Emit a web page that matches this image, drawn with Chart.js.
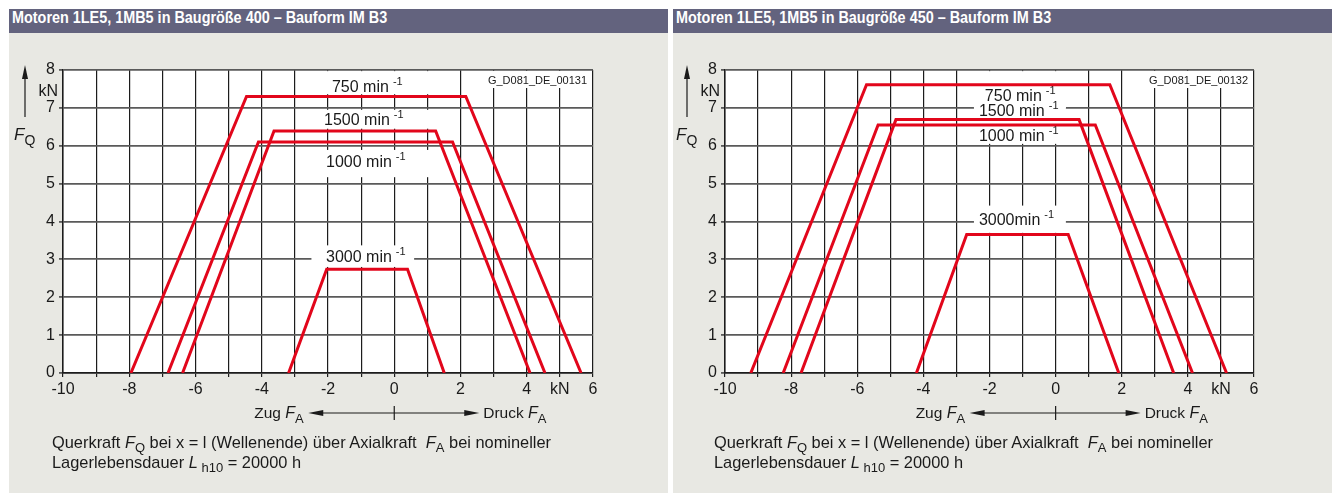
<!DOCTYPE html>
<html>
<head>
<meta charset="utf-8">
<script src="https://cdn.jsdelivr.net/npm/chart.js@4/dist/chart.umd.min.js"></script>
<style>
  body { margin: 0; background: #fff; width: 1337px; height: 493px; overflow: hidden;
         font-family: 'Liberation Sans', Arial, Helvetica, sans-serif; }
  .panel { position: absolute; top: 9px; width: 659px; height: 484px; background: #e8e8e3; }
  .head { height: 24px; background: #63637e; color: #fff; font-weight: bold; font-size: 16px;
          line-height: 18px; padding-left: 3px; white-space: nowrap; }
  .head span { display: inline-block; transform: scaleX(0.9); transform-origin: 0 0; }
  .panel canvas { position: absolute; left: 0; top: 24px; }
  .cap { position: absolute; top: 423px; font-size: 16.4px; line-height: 20px; color: #1a1a1a; white-space: nowrap; }
  .cap sub { font-size: 13px; vertical-align: -4px; line-height: 0; }
</style>
</head>
<body>

<div class="panel" id="p1" style="left:9px">
  <div class="head"><span>Motoren 1LE5, 1MB5 in Baugröße 400 – Bauform IM B3</span></div>
  <canvas id="c1" width="659" height="460"></canvas>
  <div class="cap" style="left:43px">Querkraft <i>F</i><sub>Q</sub> bei x = l (Wellenende) über Axialkraft &nbsp;<i>F</i><sub>A</sub> bei nomineller<br>Lagerlebensdauer <i>L</i><sub> h10</sub> = 20000 h</div>
</div>

<div class="panel" id="p2" style="left:673px">
  <div class="head"><span>Motoren 1LE5, 1MB5 in Baugröße 450 – Bauform IM B3</span></div>
  <canvas id="c2" width="659" height="460"></canvas>
  <div class="cap" style="left:41px">Querkraft <i>F</i><sub>Q</sub> bei x = l (Wellenende) über Axialkraft &nbsp;<i>F</i><sub>A</sub> bei nomineller<br>Lagerlebensdauer <i>L</i><sub> h10</sub> = 20000 h</div>
</div>

<script>
// speeds (min-1) in drawing order
const speeds = ['750', '1500', '1000', '3000'];

// Baugröße 400: axial force FA (kN) and radial force FQ (kN) at the corners
const fa400_750  = [-7.95, -4.46, 2.16, 5.64];
const fq400_750  = [0, 7.3, 7.3, 0];
const fa400_1500 = [-6.39, -3.63, 1.25, 4.1];
const fq400_1500 = [0, 6.39, 6.39, 0];
const fa400_1000 = [-6.83, -4.1, 1.76, 4.55];
const fq400_1000 = [0, 6.1, 6.1, 0];
const fa400_3000 = [-3.19, -2.04, 0.4, 1.51];
const fq400_3000 = [0, 2.74, 2.74, 0];

// Baugröße 450
const fa450_750  = [-9.22, -5.72, 1.64, 5.17];
const fq450_750  = [0, 7.61, 7.61, 0];
const fa450_1500 = [-7.7, -4.83, 0.71, 3.57];
const fq450_1500 = [0, 6.69, 6.69, 0];
const fa450_1000 = [-8.24, -5.37, 1.2, 4.14];
const fq450_1000 = [0, 6.55, 6.55, 0];
const fa450_3000 = [-4.21, -2.69, 0.38, 1.91];
const fq450_3000 = [0, 3.66, 3.66, 0];

// axis ticks
const xMin = -10, xMax = 6;
const xTickLabels = [-10, -8, -6, -4, -2, 0, 2, 4, 6];
const xUnitTick = 5;
const yMin = 0, yMax = 8;

const FONT = "'Liberation Sans', Arial, Helvetica, sans-serif";
const RED = '#e2061b';
const INK = '#1a1a1a';

function pts(xs, ys) { return xs.map((x, i) => ({ x: x, y: ys[i] })); }

// draw a row of text pieces (normal / italic / sub / sup)
function runs(ctx, x, y, parts, align) {
  let w = 0;
  parts.forEach(p => { ctx.font = p.f; w += ctx.measureText(p.t).width + (p.gap || 0); });
  if (align === 'right') x -= w;
  parts.forEach(p => {
    ctx.font = p.f;
    x += p.gap || 0;
    ctx.fillText(p.t, x, y + (p.dy || 0));
    x += ctx.measureText(p.t).width;
  });
  return x;
}

function arrowHead(ctx, x, y, dir) {
  // dir: 'up' | 'left' | 'right'
  ctx.beginPath();
  if (dir === 'up') { ctx.moveTo(x, y); ctx.lineTo(x - 3, y + 14); ctx.lineTo(x + 3, y + 14); }
  if (dir === 'left') { ctx.moveTo(x, y); ctx.lineTo(x + 15, y - 3); ctx.lineTo(x + 15, y + 3); }
  if (dir === 'right') { ctx.moveTo(x, y); ctx.lineTo(x - 15, y - 3); ctx.lineTo(x - 15, y + 3); }
  ctx.closePath();
  ctx.fill();
}

function makeChart(id, sets, cfg) {
  const decor = {
    id: 'decor',
    beforeDraw(chart) {
      const a = chart.chartArea, ctx = chart.ctx;
      ctx.save();
      ctx.fillStyle = '#fff';
      ctx.fillRect(a.left, a.top, a.right - a.left, a.bottom - a.top);
      ctx.restore();
    },
    beforeDatasetsDraw(chart) {
      const a = chart.chartArea, ctx = chart.ctx;
      const xs = chart.scales.x, ys = chart.scales.y;
      ctx.save();
      // white boxes behind the speed labels
      ctx.fillStyle = '#fff';
      cfg.boxes.forEach(b => {
        const x0 = xs.getPixelForValue(b[0]), x1 = xs.getPixelForValue(b[1]);
        const y0 = ys.getPixelForValue(b[3]), y1 = ys.getPixelForValue(b[2]);
        ctx.fillRect(x0, y0, x1 - x0, y1 - y0);
      });
      // id box top right
      const ix = xs.getPixelForValue(2.5);
      ctx.fillRect(ix, a.top + 1, a.right - ix - 1, 17);
      ctx.fillStyle = INK;
      ctx.textBaseline = 'alphabetic';
      cfg.labels.forEach((l, i) => {
        const x = xs.getPixelForValue(l[0]), y = ys.getPixelForValue(l[1]) + 6;
        runs(ctx, x, y, [
          { t: speeds[i] + (cfg.tight && i === 3 ? '' : ' ') + 'min', f: '16px ' + FONT },
          { t: '-1', f: '11px ' + FONT, dy: -7, gap: 4 }
        ]);
      });
      ctx.font = '11px ' + FONT;
      ctx.textAlign = 'right';
      ctx.fillText(cfg.code, a.right - 6, a.top + 14);
      ctx.textAlign = 'left';
      ctx.restore();
    },
    afterDraw(chart) {
      const a = chart.chartArea, ctx = chart.ctx;
      const xs = chart.scales.x;
      ctx.save();
      ctx.fillStyle = INK;
      ctx.strokeStyle = INK;
      ctx.lineWidth = 1.2;
      // y axis unit and title with arrow
      runs(ctx, a.left - 5, a.top + 26, [{ t: 'kN', f: '16px ' + FONT }], 'right');
      const ax = a.left - 38;
      ctx.beginPath(); ctx.moveTo(ax, a.top + 6); ctx.lineTo(ax, a.top + 47); ctx.stroke();
      arrowHead(ctx, ax, a.top - 5, 'up');
      runs(ctx, a.left - 49, a.top + 70, [
        { t: 'F', f: 'italic 17px ' + FONT },
        { t: 'Q', f: '14px ' + FONT, dy: 5 }
      ]);
      // Zug / Druck arrow
      const x0 = xs.getPixelForValue(0), y = a.bottom + 40;
      runs(ctx, x0 - 140, y + 5, [
        { t: 'Zug ', f: '15.5px ' + FONT },
        { t: 'F', f: 'italic 16px ' + FONT },
        { t: 'A', f: '13px ' + FONT, dy: 5 }
      ]);
      ctx.beginPath(); ctx.moveTo(x0 - 80, y); ctx.lineTo(x0 + 78, y); ctx.stroke();
      ctx.beginPath(); ctx.moveTo(x0, y - 7); ctx.lineTo(x0, y + 7); ctx.stroke();
      arrowHead(ctx, x0 - 86, y, 'left');
      arrowHead(ctx, x0 + 85, y, 'right');
      runs(ctx, x0 + 89, y + 5, [
        { t: 'Druck ', f: '15.5px ' + FONT },
        { t: 'F', f: 'italic 16px ' + FONT },
        { t: 'A', f: '13px ' + FONT, dy: 5 }
      ]);
      ctx.restore();
    }
  };

  return new Chart(document.getElementById(id), {
    type: 'line',
    data: {
      datasets: sets.map((s, i) => ({
        label: speeds[i] + ' min-1',
        data: pts(s[0], s[1]),
        borderColor: RED,
        borderWidth: 3,
        borderJoinStyle: 'miter',
        pointRadius: 0,
        tension: 0,
        fill: false
      }))
    },
    options: {
      responsive: false,
      animation: false,
      devicePixelRatio: 1,
      layout: { padding: { left: cfg.left - 36, right: 659 - cfg.right, top: 37, bottom: 90 } },
      plugins: { legend: { display: false }, tooltip: { enabled: false } },
      scales: {
        x: {
          type: 'linear', min: xMin, max: xMax,
          afterFit: s => { s.height = 30; },
          ticks: {
            stepSize: 1, autoSkip: false, maxRotation: 0, padding: 3, color: INK,
            font: { family: FONT, size: 16 },
            callback: v => v === xUnitTick ? 'kN' : (xTickLabels.includes(v) ? String(v) : '')
          },
          grid: { color: '#1c1c1c', lineWidth: 1.2, tickLength: 4 },
          border: { color: '#1c1c1c', width: 1.5 }
        },
        y: {
          min: yMin, max: yMax,
          afterFit: s => { s.width = 36; },
          ticks: { stepSize: 1, padding: 4, color: INK, font: { family: FONT, size: 16 } },
          grid: { color: '#5a5a5a', lineWidth: 1.8, tickLength: 4 },
          border: { color: '#1c1c1c', width: 1.5 }
        }
      }
    },
    plugins: [decor]
  });
}

makeChart('c1', [
  [fa400_750, fq400_750], [fa400_1500, fq400_1500], [fa400_1000, fq400_1000], [fa400_3000, fq400_3000]
], {
  left: 54, right: 584, code: 'G_D081_DE_00131', tight: false,
  labels: [[-1.88, 7.57], [-2.12, 6.71], [-2.06, 5.6], [-2.06, 3.08]],
  boxes: [[-2.4, 1.3, 7.36, 7.97], [-2.4, 1.3, 6.45, 6.95], [-2.4, 1.3, 5.17, 5.89], [-2.5, 0.6, 2.8, 3.37]]
});

makeChart('c2', [
  [fa450_750, fq450_750], [fa450_1500, fq450_1500], [fa450_1000, fq450_1000], [fa450_3000, fq450_3000]
], {
  left: 52, right: 581, code: 'G_D081_DE_00132', tight: true,
  labels: [[-2.14, 7.35], [-2.32, 6.95], [-2.32, 6.29], [-2.32, 4.06]],
  boxes: [[-2.47, 0.31, 7.0, 7.97], [-2.47, 0.31, 6.6, 7.2], [-2.47, 0.31, 6.05, 6.62], [-2.47, 0.31, 3.7, 4.42]]
});
</script>
</body>
</html>
